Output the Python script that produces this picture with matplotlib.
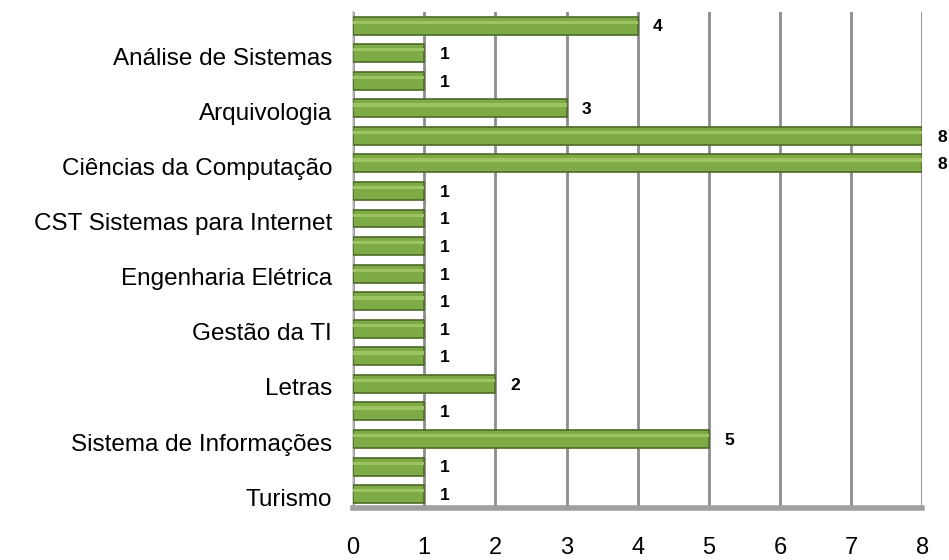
import numpy as np
import matplotlib.pyplot as plt
import matplotlib.transforms as mtransforms

plt.rcParams['font.family'] = ['Liberation Sans', 'DejaVu Sans']

# categories (only every other one is labelled in the original chart)
cursos = ["", "Análise de Sistemas", "", "Arquivologia", "", "Ciências da Computação",
          "", "CST Sistemas para Internet", "", "Engenharia Elétrica", "", "Gestão da TI",
          "", "Letras", "", "Sistema de Informações", "", "Turismo"]
valores = [4, 1, 1, 3, 8, 8, 1, 1, 1, 1, 1, 1, 1, 2, 1, 5, 1, 1]
xticks = [0, 1, 2, 3, 4, 5, 6, 7, 8]

fig = plt.figure(figsize=(9.49, 5.6), dpi=100)
ax = fig.add_axes([0.372, 0.093, 0.6, 0.886])

y = np.arange(len(valores))
ax.barh(y, valores, height=0.65, color='#7fab47', edgecolor='#4e6b26', linewidth=1.2, zorder=3)
# light highlight on top of each bar for a bit of depth
ax.barh(y - 0.12, valores, height=0.12, color='#9cc462', linewidth=0, zorder=4)

for yi, v in zip(y, valores):
    ax.annotate(str(v), (v, yi), xytext=(11, -1), textcoords='offset points',
                ha='left', va='center', fontsize=12.5, fontweight='bold', zorder=5)

ax.set_xlim(0, 8)
ax.set_ylim(len(valores) - 0.5, -0.5)
ax.set_xticks(xticks)
ax.set_xticklabels([str(t) for t in xticks], fontsize=17)
ax.set_yticks(y)
ax.set_yticklabels(cursos, fontsize=17.5)
ax.tick_params(axis='y', length=0, pad=15)
ax.tick_params(axis='x', length=0, pad=21)

# nudge category labels a little down, like in the original
shift = mtransforms.ScaledTranslation(0, -3 / 100, fig.dpi_scale_trans)
for lbl in ax.get_yticklabels():
    lbl.set_transform(lbl.get_transform() + shift)

ax.grid(axis='x', color='#8c8c8c', linewidth=2, zorder=0)
for s in ['top', 'right']:
    ax.spines[s].set_visible(False)
ax.spines['left'].set_color('#c8c8c8')
ax.spines['left'].set_linewidth(1.2)
ax.spines['bottom'].set_color('#a0a0a0')
ax.spines['bottom'].set_linewidth(4)

fig.savefig('out.png', dpi=100)
